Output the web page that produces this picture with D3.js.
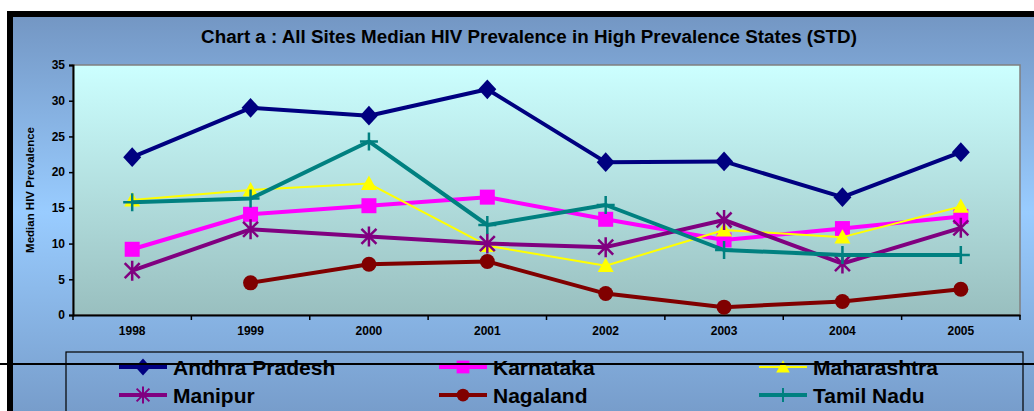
<!DOCTYPE html>
<html>
<head>
<meta charset="utf-8">
<script src="https://cdn.jsdelivr.net/npm/d3@7"></script>
<style>
  html, body { margin: 0; padding: 0; background: #fff; }
  svg { display: block; font-family: "Liberation Sans", Arial, sans-serif; }
</style>
</head>
<body>
<svg id="chart"></svg>
<script>
// data
const years = ['1998', '1999', '2000', '2001', '2002', '2003', '2004', '2005'];
const andhra = [22.1, 29.0, 27.9, 31.6, 21.4, 21.5, 16.5, 22.8];
const karnataka = [9.2, 14.1, 15.3, 16.5, 13.4, 10.5, 12.1, 13.8];
const maharashtra = [16.1, 17.5, 18.4, 9.7, 6.9, 11.9, 10.9, 15.2];
const manipur = [6.2, 12.0, 11.0, 10.0, 9.5, 13.3, 7.2, 12.2];
const nagaland = [null, 4.5, 7.1, 7.5, 3.0, 1.1, 1.9, 3.6];
const tamilNadu = [15.8, 16.3, 24.3, 12.6, 15.4, 9.1, 8.4, 8.4];
const yTicks = [0, 5, 10, 15, 20, 25, 30, 35];

const series = [
  { name: 'Andhra Pradesh', values: andhra, color: '#000080', width: 4, marker: 'diamond' },
  { name: 'Karnataka', values: karnataka, color: '#ff00ff', width: 4, marker: 'square' },
  { name: 'Maharashtra', values: maharashtra, color: '#ffff00', width: 2, marker: 'triangle' },
  { name: 'Manipur', values: manipur, color: '#800080', width: 4, marker: 'asterisk' },
  { name: 'Nagaland', values: nagaland, color: '#800000', width: 4, marker: 'circle' },
  { name: 'Tamil Nadu', values: tamilNadu, color: '#008080', width: 4, marker: 'plus' }
];

const width = 1034, height = 411;
const plot = { left: 73, top: 65, right: 1020, bottom: 315 };

const svg = d3.select('#chart').attr('width', width).attr('height', height);
const defs = svg.append('defs');

const bg = defs.append('linearGradient').attr('id', 'bg').attr('x1', 0).attr('y1', 0).attr('x2', 0).attr('y2', 1);
bg.append('stop').attr('offset', '0%').attr('stop-color', '#7396c3');
bg.append('stop').attr('offset', '45%').attr('stop-color', '#99ccff');
bg.append('stop').attr('offset', '100%').attr('stop-color', '#7093c0');

const pg = defs.append('linearGradient').attr('id', 'pg').attr('x1', 0).attr('y1', 0).attr('x2', 0).attr('y2', 1);
pg.append('stop').attr('offset', '0%').attr('stop-color', '#ccffff');
pg.append('stop').attr('offset', '100%').attr('stop-color', '#99bfbf');

// chart area
svg.append('rect')
  .attr('x', 10).attr('y', 14)
  .attr('width', 1040).attr('height', 440)
  .attr('fill', 'url(#bg)')
  .attr('stroke', '#000').attr('stroke-width', 6);

// Title
svg.append('text')
  .attr('x', 529).attr('y', 43)
  .attr('text-anchor', 'middle')
  .attr('font-size', 18.8).attr('font-weight', 'bold')
  .text('Chart a : All Sites Median HIV Prevalence in High Prevalence States (STD)');

// plot area
svg.append('rect')
  .attr('x', plot.left).attr('y', plot.top)
  .attr('width', plot.right - plot.left).attr('height', plot.bottom - plot.top)
  .attr('fill', 'url(#pg)')
  .attr('stroke', '#808080').attr('stroke-width', 1.5);

const x = d3.scaleBand().domain(years).range([plot.left, plot.right]).padding(0);
const y = d3.scaleLinear().domain([0, 35]).range([plot.bottom, plot.top]);
const cx = d => x(d) + x.bandwidth() / 2;

// Y Axis
const yAxis = svg.append('g')
  .attr('transform', `translate(${plot.left},0)`)
  .call(d3.axisLeft(y).tickValues(yTicks).tickSize(4).tickPadding(4));
yAxis.select('.domain').attr('stroke', '#000').attr('stroke-width', 2);
yAxis.selectAll('.tick line').attr('stroke', '#000').attr('stroke-width', 1.5);
yAxis.selectAll('.tick text')
  .attr('font-family', '"Liberation Sans", Arial, sans-serif')
  .attr('font-size', 12).attr('font-weight', 'bold').attr('fill', '#000');

// X Axis - labels centred, ticks on category borders
const xAxis = svg.append('g')
  .attr('transform', `translate(0,${plot.bottom})`)
  .call(d3.axisBottom(x).tickSize(0).tickPadding(11));
xAxis.select('.domain').attr('stroke', '#000').attr('stroke-width', 2);
xAxis.selectAll('.tick text')
  .attr('font-family', '"Liberation Sans", Arial, sans-serif')
  .attr('font-size', 12).attr('font-weight', 'bold').attr('fill', '#000');
xAxis.selectAll('line.border')
  .data(years.map(d => x(d)).concat([plot.right]))
  .enter().append('line')
  .attr('class', 'border')
  .attr('x1', d => d).attr('x2', d => d)
  .attr('y1', 0).attr('y2', 5)
  .attr('stroke', '#000').attr('stroke-width', 1.5);

// Y axis title
svg.append('text')
  .attr('transform', 'translate(34,190) rotate(-90)')
  .attr('text-anchor', 'middle')
  .attr('font-size', 11.5).attr('font-weight', 'bold')
  .text('Median HIV Prevalence');

// marker shapes
function markerPath(type, s) {
  switch (type) {
    case 'diamond': return `M0,${-s * 1.1}L${s},0L0,${s * 1.1}L${-s},0Z`;
    case 'square': return `M${-s},${-s}H${s}V${s}H${-s}Z`;
    case 'triangle': return `M0,${-s}L${s},${s * 0.8}L${-s},${s * 0.8}Z`;
    case 'circle': return d3.symbol(d3.symbolCircle, Math.PI * s * s)();
    case 'asterisk': {
      const d = s * 0.75;
      return `M${-d},${-d}L${d},${d}M${-d},${d}L${d},${-d}M0,${-s}V${s}`;
    }
    case 'plus': return `M${-s},0H${s}M0,${-s}V${s}`;
  }
}
const markerSize = { diamond: 9, square: 7.5, triangle: 8, circle: 7.5, asterisk: 10, plus: 9 };
const stroked = t => t === 'asterisk' || t === 'plus';

const line = d3.line()
  .defined(d => d.v != null)
  .x(d => cx(d.year))
  .y(d => y(d.v));

series.forEach(s => {
  const pts = years.map((yr, i) => ({ year: yr, v: s.values[i] }));
  svg.append('path')
    .datum(pts)
    .attr('fill', 'none')
    .attr('stroke', s.color)
    .attr('stroke-width', s.width)
    .attr('stroke-linejoin', 'round')
    .attr('d', line);
  svg.append('g').selectAll('path')
    .data(pts.filter(d => d.v != null))
    .enter().append('path')
    .attr('transform', d => `translate(${cx(d.year)},${y(d.v)})`)
    .attr('d', markerPath(s.marker, markerSize[s.marker]))
    .attr('fill', stroked(s.marker) ? 'none' : s.color)
    .attr('stroke', s.color)
    .attr('stroke-width', stroked(s.marker) ? 2.5 : 0);
});

// Legend
svg.append('rect')
  .attr('x', 66).attr('y', 352)
  .attr('width', 957).attr('height', 80)
  .attr('fill', 'none').attr('stroke', '#000').attr('stroke-width', 1.2);

const colX = [119, 439, 759];
const rowY = [367, 395];
const legend = svg.append('g');
series.forEach((s, i) => {
  const lx = colX[i % 3], ly = rowY[Math.floor(i / 3)];
  const g = legend.append('g').attr('transform', `translate(${lx},${ly})`);
  g.append('line')
    .attr('x1', 0).attr('x2', 48).attr('y1', 0).attr('y2', 0)
    .attr('stroke', s.color).attr('stroke-width', s.width);
  const ms = s.marker === 'plus' ? 7 : markerSize[s.marker] * 0.85;
  g.append('path')
    .attr('transform', 'translate(24,0)')
    .attr('d', markerPath(s.marker, ms))
    .attr('fill', stroked(s.marker) ? 'none' : s.color)
    .attr('stroke', s.color)
    .attr('stroke-width', stroked(s.marker) ? 2 : 0);
  g.append('text')
    .attr('x', 54).attr('y', 7.5)
    .attr('font-size', 21).attr('font-weight', 'bold')
    .text(s.name);
});

// stray rule across the legend
svg.append('line')
  .attr('x1', 0).attr('x2', width)
  .attr('y1', 364).attr('y2', 364)
  .attr('stroke', '#000').attr('stroke-width', 2);
</script>
</body>
</html>
